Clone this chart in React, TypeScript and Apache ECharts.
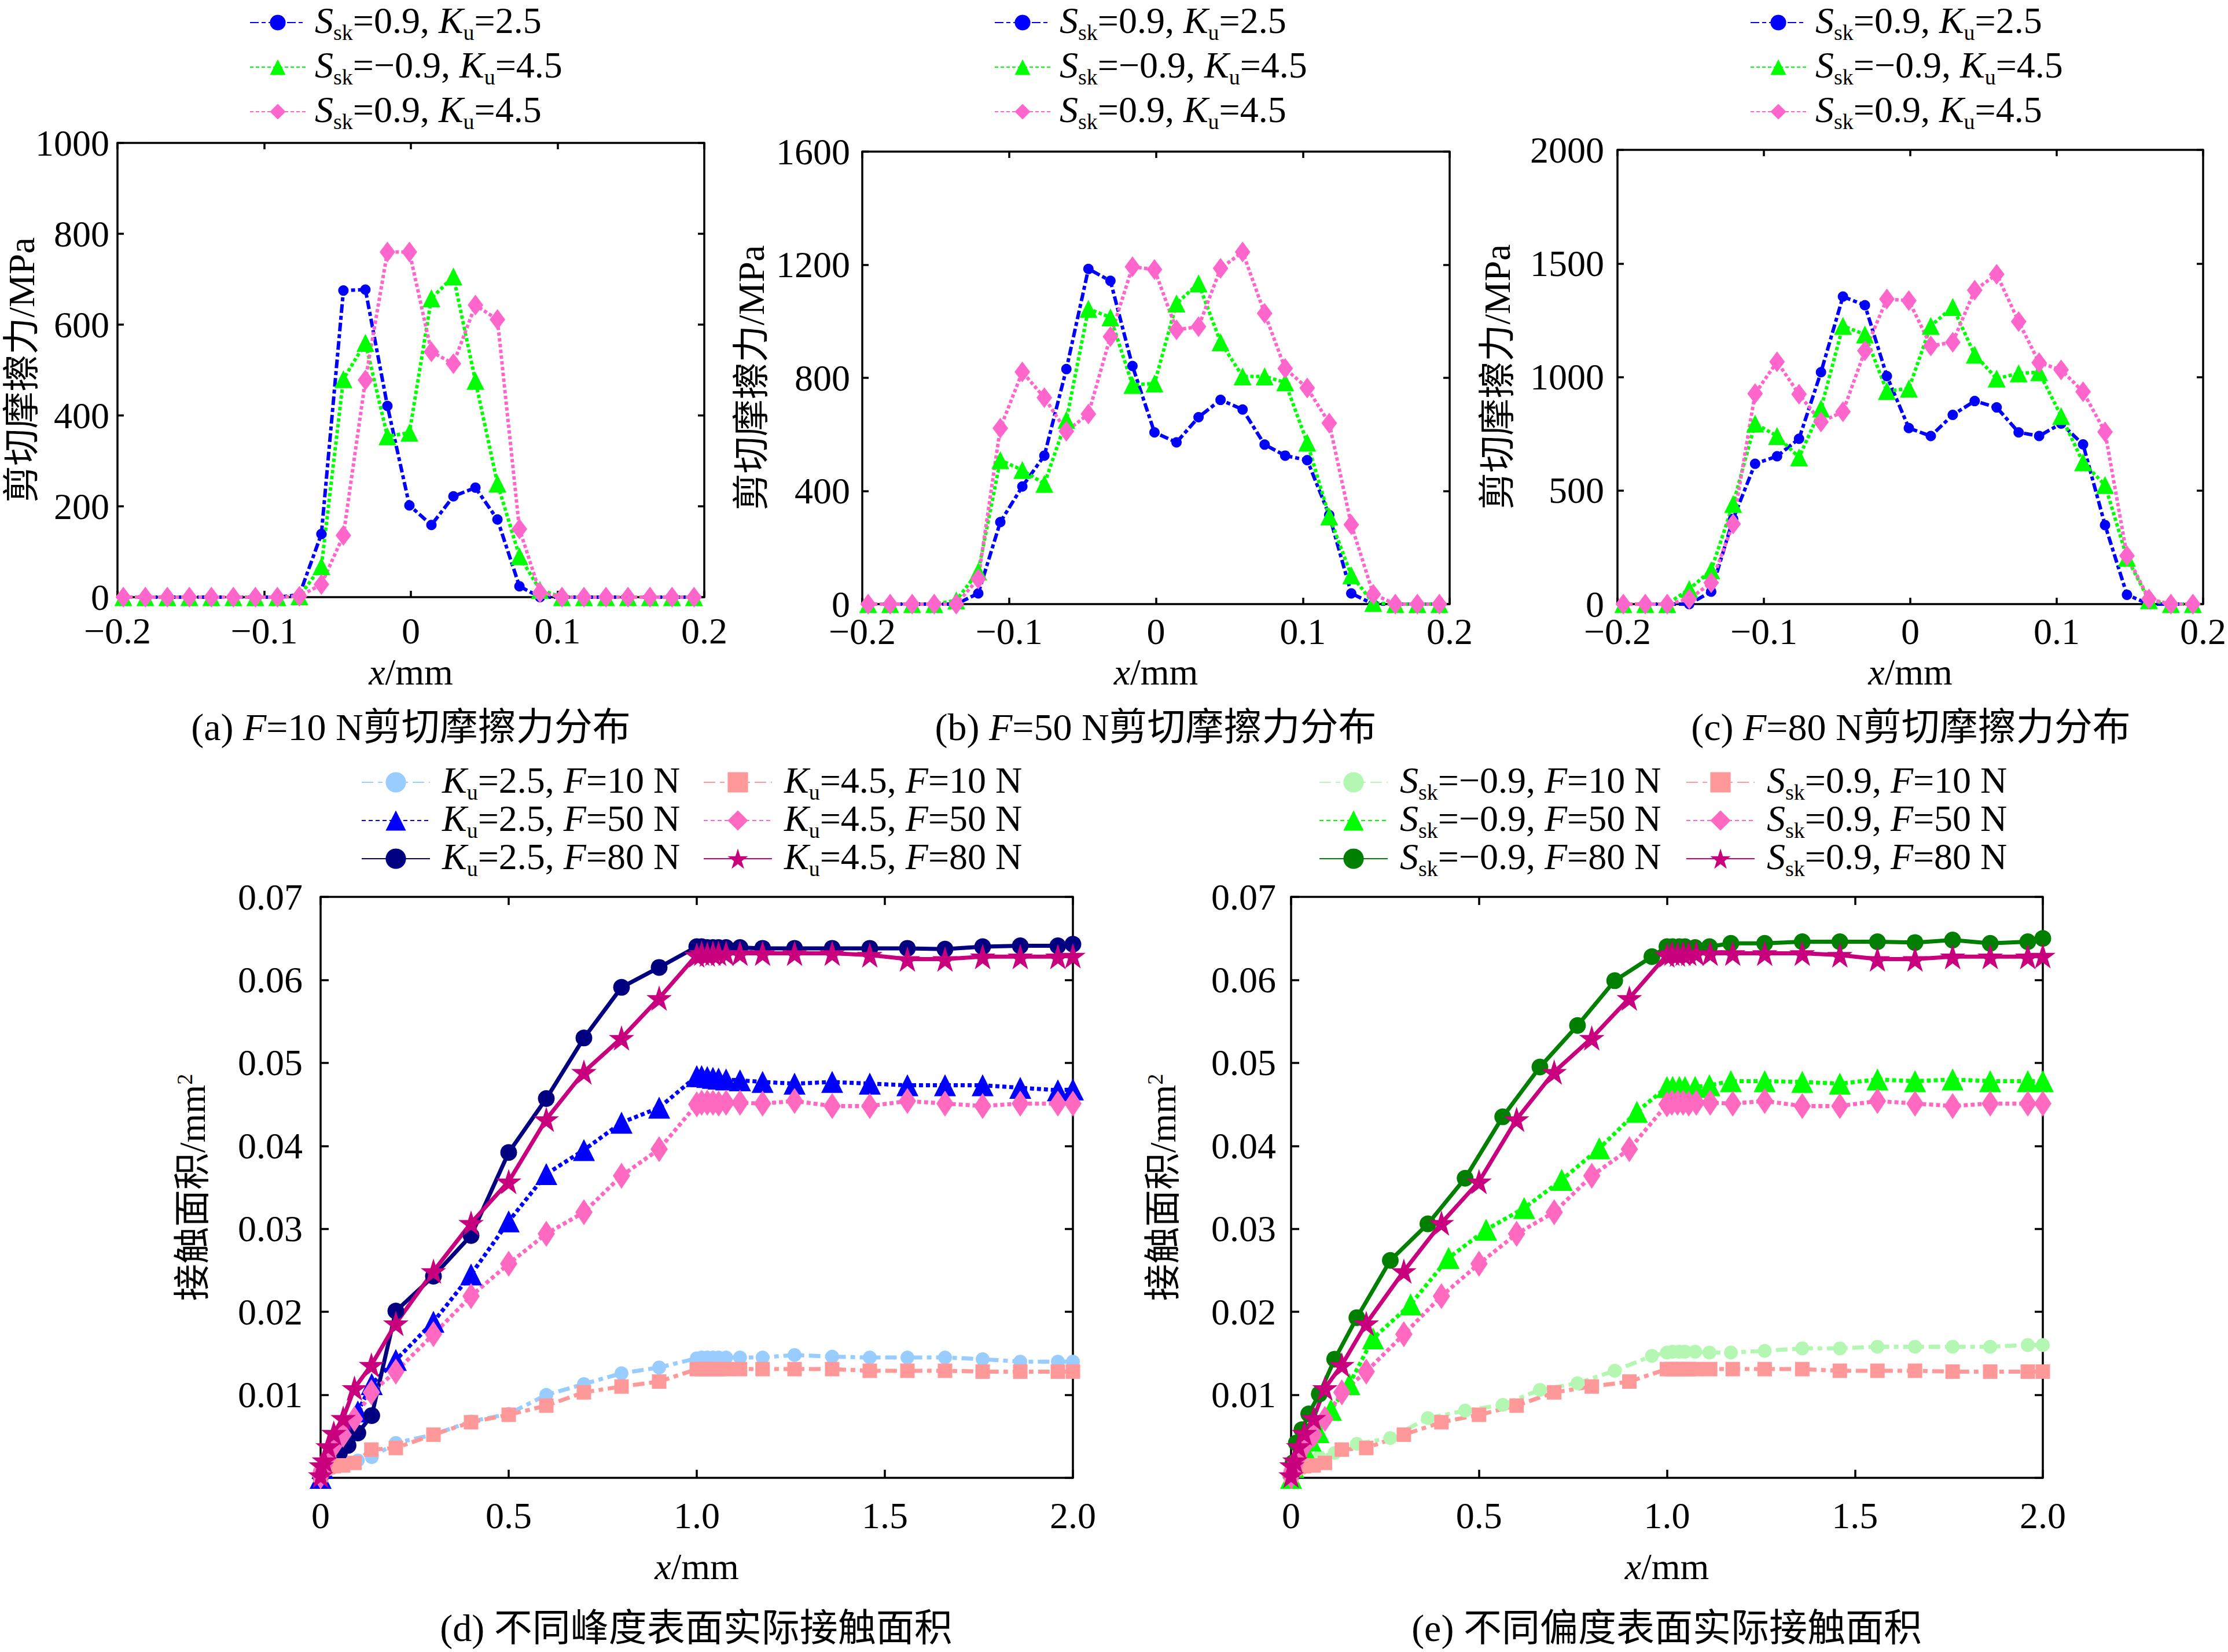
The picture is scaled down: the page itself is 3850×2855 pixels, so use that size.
import React, { useEffect, useRef } from 'react';
import * as echarts from 'echarts';

const FONT = "'Liberation Serif', 'Times New Roman', 'Noto Sans CJK SC', serif";

// ---------- panels (a)-(c): shear friction stress distribution ----------
const xShear = [-0.196, -0.181, -0.166, -0.151, -0.136, -0.121, -0.106, -0.091, -0.076, -0.061, -0.046, -0.031, -0.016, -0.001,
  0.014, 0.029, 0.044, 0.059, 0.074, 0.088, 0.103, 0.118, 0.133, 0.148, 0.163, 0.178, 0.193];

const shearA_s09k25 = [0, 0, 0, 0, 0, 0, 0, 0, 5, 139, 675, 677, 421, 202, 159, 222, 241, 171, 24, 0, 0, 0, 0, 0, 0, 0, 0];
const shearA_sm09k45 = [0, 0, 0, 0, 0, 0, 0, 0, 2, 68, 480, 560, 354, 362, 658, 706, 476, 250, 90, 16, 0, 0, 0, 0, 0, 0, 0];
const shearA_s09k45 = [0, 0, 0, 0, 0, 0, 0, 0, 2, 28, 136, 478, 760, 760, 540, 514, 643, 611, 150, 10, 0, 0, 0, 0, 0, 0, 0];

const shearB_s09k25 = [0, 0, 0, 0, 0, 38, 290, 416, 525, 831, 1185, 1143, 842, 607, 572, 661, 722, 688, 564, 525, 509, 315, 38, 0, 0, 0, 0];
const shearB_sm09k45 = [0, 0, 0, 0, 13, 115, 509, 474, 425, 651, 1044, 1014, 775, 780, 1063, 1134, 926, 805, 805, 784, 571, 310, 102, 4, 0, 0, 0];
const shearB_s09k45 = [0, 0, 0, 0, 0, 89, 622, 821, 730, 611, 672, 946, 1193, 1183, 970, 981, 1187, 1245, 1028, 833, 764, 640, 281, 35, 0, 0, 0];

const shearC_s09k25 = [0, 0, 0, 0, 55, 375, 618, 651, 728, 1021, 1354, 1316, 1004, 775, 740, 833, 894, 866, 756, 740, 795, 703, 348, 41, 0, 0, 0];
const shearC_sm09k45 = [0, 0, 0, 66, 149, 441, 795, 740, 646, 861, 1225, 1187, 938, 949, 1225, 1308, 1098, 993, 1016, 1021, 828, 624, 524, 204, 17, 0, 0];
const shearC_s09k45 = [0, 0, 0, 22, 94, 353, 927, 1067, 924, 802, 847, 1115, 1343, 1336, 1137, 1153, 1382, 1452, 1244, 1063, 1031, 935, 758, 213, 22, 0, 0];

const shearLegend = [
  '{sp| }{i|S}{sub|sk}{n|=0.9, }{i|K}{sub|u}{n|=2.5}',
  '{sp| }{i|S}{sub|sk}{n|=−0.9, }{i|K}{sub|u}{n|=4.5}',
  '{sp| }{i|S}{sub|sk}{n|=0.9, }{i|K}{sub|u}{n|=4.5}',
];
const shearYMax = [1000, 1600, 2000];
const shearYStep = [200, 400, 500];
const shearCaptions = [
  '{n|(a) }{i|F}{n|=10 N剪切摩擦力分布}',
  '{n|(b) }{i|F}{n|=50 N剪切摩擦力分布}',
  '{n|(c) }{i|F}{n|=80 N剪切摩擦力分布}',
];

// ---------- panels (d)-(e): real contact area ----------
const xKu25 = [0, 0.005, 0.015, 0.03, 0.05, 0.073, 0.099, 0.136, 0.2, 0.3, 0.4, 0.5, 0.6, 0.7, 0.8, 0.9,
  1.0, 1.013, 1.028, 1.043, 1.058, 1.078, 1.115, 1.175, 1.26, 1.36, 1.46, 1.56, 1.66, 1.76, 1.86, 1.96, 2.0];
const xKu45 = [0, 0.002, 0.01, 0.02, 0.035, 0.06, 0.09, 0.135, 0.2, 0.3, 0.4, 0.5, 0.6, 0.7, 0.8, 0.9,
  1.0, 1.013, 1.028, 1.043, 1.058, 1.078, 1.115, 1.175, 1.26, 1.36, 1.46, 1.56, 1.66, 1.76, 1.86, 1.96, 2.0];
const xSskNeg = [0, 0.005, 0.014, 0.029, 0.047, 0.075, 0.116, 0.175, 0.264, 0.364, 0.463, 0.563, 0.662, 0.762, 0.861, 0.96,
  1.0, 1.015, 1.033, 1.048, 1.075, 1.113, 1.17, 1.26, 1.36, 1.46, 1.56, 1.66, 1.76, 1.86, 1.96, 2.0];
const xSskNeg50 = [0, 0.006, 0.018, 0.035, 0.052, 0.073, 0.106, 0.155, 0.218, 0.318, 0.419, 0.519, 0.62, 0.72, 0.82, 0.92,
  1.0, 1.015, 1.033, 1.048, 1.075, 1.113, 1.17, 1.26, 1.36, 1.46, 1.56, 1.66, 1.76, 1.86, 1.96, 2.0];

const areaKu25F10 = [0.0003, 0.0006, 0.0009, 0.0012, 0.0015, 0.0018, 0.0021, 0.0025, 0.0042, 0.0052, 0.0068, 0.0077, 0.0100, 0.0113, 0.0126, 0.0133,
  0.0144, 0.0145, 0.0145, 0.0145, 0.0145, 0.0145, 0.0145, 0.0145, 0.0148, 0.0146, 0.0145, 0.0145, 0.0145, 0.0143, 0.0140, 0.0140, 0.0140];
const areaKu25F50 = [0.0, 0.0012, 0.0022, 0.0035, 0.0048, 0.0062, 0.0080, 0.0113, 0.0142, 0.0188, 0.0245, 0.0309, 0.0366, 0.0395, 0.0428, 0.0446,
  0.0484, 0.0484, 0.0483, 0.0482, 0.0481, 0.0480, 0.0479, 0.0477, 0.0475, 0.0477, 0.0475, 0.0473, 0.0473, 0.0473, 0.0470, 0.0467, 0.0468];
const areaKu25F80 = [0.0002, 0.0008, 0.0015, 0.0022, 0.0030, 0.0039, 0.0054, 0.0075, 0.0201, 0.0243, 0.0292, 0.0392, 0.0457, 0.0530, 0.0591, 0.0615,
  0.0640, 0.0640, 0.0639, 0.0639, 0.0639, 0.0639, 0.0639, 0.0638, 0.0638, 0.0638, 0.0638, 0.0638, 0.0637, 0.0640, 0.0641, 0.0641, 0.0643];
const areaKu45F10 = [0.0003, 0.0008, 0.0011, 0.0013, 0.0014, 0.0015, 0.0018, 0.0034, 0.0036, 0.0052, 0.0067, 0.0076, 0.0087, 0.0103, 0.0110, 0.0116,
  0.0131, 0.0131, 0.0131, 0.0131, 0.0131, 0.0131, 0.0131, 0.0131, 0.0131, 0.0131, 0.0129, 0.0129, 0.0129, 0.0128, 0.0128, 0.0128, 0.0128];
const areaKu45F50 = [0.0002, 0.0008, 0.0015, 0.0025, 0.0038, 0.0052, 0.0071, 0.0103, 0.0128, 0.0173, 0.0219, 0.0258, 0.0294, 0.0320, 0.0364, 0.0396,
  0.0450, 0.0452, 0.0452, 0.0452, 0.0451, 0.0452, 0.0452, 0.0451, 0.0454, 0.0448, 0.0448, 0.0454, 0.0451, 0.0448, 0.0451, 0.0451, 0.0451];
const areaKu45F80 = [0.0003, 0.0015, 0.0021, 0.0038, 0.0054, 0.0072, 0.0108, 0.0136, 0.0186, 0.0249, 0.0307, 0.0357, 0.0432, 0.0489, 0.0530, 0.0578,
  0.0630, 0.0632, 0.0631, 0.0632, 0.0632, 0.0632, 0.0632, 0.0632, 0.0632, 0.0632, 0.0630, 0.0625, 0.0625, 0.0628, 0.0628, 0.0628, 0.0629];
const areaSskNegF10 = [0.0003, 0.0008, 0.0012, 0.0016, 0.0020, 0.0025, 0.0030, 0.0041, 0.0048, 0.0072, 0.0081, 0.0088, 0.0106, 0.0114, 0.0129, 0.0147,
  0.0151, 0.0152, 0.0152, 0.0152, 0.0152, 0.0151, 0.0151, 0.0153, 0.0156, 0.0156, 0.0158, 0.0158, 0.0158, 0.0158, 0.0160, 0.0160];
const areaSskNegF50 = [0.0, 0.0013, 0.0024, 0.0035, 0.0045, 0.0055, 0.0082, 0.0113, 0.0168, 0.0209, 0.0265, 0.0299, 0.0325, 0.0359, 0.0397, 0.0441,
  0.0471, 0.0471, 0.0471, 0.0471, 0.0471, 0.0473, 0.0478, 0.0478, 0.0477, 0.0475, 0.0480, 0.0478, 0.0480, 0.0478, 0.0478, 0.0478];
const areaSskNegF80 = [0.0003, 0.0018, 0.0042, 0.0058, 0.0077, 0.0101, 0.0143, 0.0193, 0.0262, 0.0306, 0.0361, 0.0435, 0.0495, 0.0545, 0.0599, 0.0628,
  0.0640, 0.0640, 0.0640, 0.0640, 0.0639, 0.0640, 0.0644, 0.0644, 0.0646, 0.0646, 0.0646, 0.0645, 0.0648, 0.0644, 0.0646, 0.0650];

const legendD = [
  ['{sp| }{i|K}{sub|u}{n|=2.5, }{i|F}{n|=10 N}', '{sp| }{i|K}{sub|u}{n|=2.5, }{i|F}{n|=50 N}', '{sp| }{i|K}{sub|u}{n|=2.5, }{i|F}{n|=80 N}'],
  ['{sp| }{i|K}{sub|u}{n|=4.5, }{i|F}{n|=10 N}', '{sp| }{i|K}{sub|u}{n|=4.5, }{i|F}{n|=50 N}', '{sp| }{i|K}{sub|u}{n|=4.5, }{i|F}{n|=80 N}'],
];
const legendE = [
  ['{sp| }{i|S}{sub|sk}{n|=−0.9, }{i|F}{n|=10 N}', '{sp| }{i|S}{sub|sk}{n|=−0.9, }{i|F}{n|=50 N}', '{sp| }{i|S}{sub|sk}{n|=−0.9, }{i|F}{n|=80 N}'],
  ['{sp| }{i|S}{sub|sk}{n|=0.9, }{i|F}{n|=10 N}', '{sp| }{i|S}{sub|sk}{n|=0.9, }{i|F}{n|=50 N}', '{sp| }{i|S}{sub|sk}{n|=0.9, }{i|F}{n|=80 N}'],
];
const areaCaptions = ['{n|(d) 不同峰度表面实际接触面积}', '{n|(e) 不同偏度表面实际接触面积}'];

const STAR = 'path://M50 0 L61.23 34.55 L97.55 34.55 L68.17 55.9 L79.39 90.45 L50 69.1 L20.61 90.45 L31.83 55.9 L2.45 34.55 L38.77 34.55 Z';

function rich(fs: number, spw = 0) {
  return {
    n: { fontFamily: FONT, fontSize: fs, color: '#000', verticalAlign: 'top', lineHeight: fs },
    i: { fontFamily: FONT, fontSize: fs, color: '#000', fontStyle: 'italic', verticalAlign: 'top', lineHeight: fs },
    sub: { fontFamily: FONT, fontSize: Math.round(fs * 0.6), color: '#000', verticalAlign: 'bottom', lineHeight: Math.round(fs * 1.13) },
    sup: { fontFamily: FONT, fontSize: Math.round(fs * 0.6), color: '#000', verticalAlign: 'top', lineHeight: fs },
    sp: { fontFamily: FONT, fontSize: 4, width: spw, verticalAlign: 'top', lineHeight: 4 },
  };
}

const near0 = (v: number) => Math.abs(v) < 1e-9;
const fmtShearX = (v: number) => (near0(v) ? '0' : v < 0 ? '−' + (-v).toFixed(1) : v.toFixed(1));
const fmtAreaX = (v: number) => (near0(v) ? '0' : v.toFixed(1));
const fmtAreaY = (v: number) => (near0(v) ? '' : v.toFixed(2));

const AXW = 3.5;

function makeAxes(gi: number, o: any) {
  const common = (min: number, max: number, interval: number) => ({
    type: 'value', gridIndex: gi, min, max, interval,
    splitLine: { show: false },
    axisLine: { show: true, onZero: false, lineStyle: { color: '#000', width: AXW } },
    axisTick: { show: true, inside: true, length: o.tick, lineStyle: { color: '#000', width: AXW } },
  });
  const xb = {
    ...common(o.xMin, o.xMax, o.xStep), position: 'bottom',
    axisLabel: { show: true, margin: o.xMargin, formatter: o.xFmt, fontFamily: FONT, fontSize: o.fs, color: '#000' },
    name: '{i|x}{n|/mm}', nameLocation: 'middle', nameGap: o.xNameGap,
    nameTextStyle: { fontFamily: FONT, fontSize: o.fs, color: '#000', rich: rich(o.nameFs) },
  };
  const xt = { ...common(o.xMin, o.xMax, o.xStep), position: 'top', axisLabel: { show: false } };
  const yl = {
    ...common(0, o.yMax, o.yStep), position: 'left',
    axisLabel: { show: true, margin: o.yMargin, formatter: o.yFmt, fontFamily: FONT, fontSize: o.fs, color: '#000' },
    name: o.yName, nameLocation: 'middle', nameGap: o.yNameGap, nameMoveOverlap: false,
    nameTextStyle: { fontFamily: FONT, fontSize: o.nameFs, color: '#000', rich: rich(o.nameFs) },
  };
  const yr = { ...common(0, o.yMax, o.yStep), position: 'right', axisLabel: { show: false } };
  return { x: [xb, xt], y: [yl, yr] };
}

function line(name: string, gi: number, xs: number[], ys: number[], color: string, type: any, width: number, symbol: string, size: any) {
  return {
    type: 'line', name, xAxisIndex: gi * 2, yAxisIndex: gi * 2,
    data: xs.map((x, i) => [x, ys[i]]),
    symbol, symbolSize: size, showSymbol: true, clip: false,
    lineStyle: { color, width, type },
    itemStyle: { color },
    emphasis: { disabled: true },
    animation: false,
  };
}

function buildOption() {
  const grids = [
    { left: 203, top: 247, width: 1014, height: 785 },
    { left: 1490, top: 262, width: 1015, height: 782 },
    { left: 2795, top: 259, width: 1015, height: 785 },
    { left: 554, top: 1550, width: 1300, height: 1004 },
    { left: 2231, top: 1550, width: 1299, height: 1004 },
  ];
  const xAxis: any[] = [];
  const yAxis: any[] = [];
  const series: any[] = [];
  const legend: any[] = [];
  const graphic: any[] = [];

  const shearSets = [
    [shearA_s09k25, shearA_sm09k45, shearA_s09k45],
    [shearB_s09k25, shearB_sm09k45, shearB_s09k45],
    [shearC_s09k25, shearC_sm09k45, shearC_s09k45],
  ];
  const shearXMargin = [26, 15, 15];
  const shearXNameGap = [97, 85, 85];
  const shearYMargin = [14, 21, 23];
  const shearYNameGap = [134, 160, 176];
  const shearLegendLeft = [431, 1718, 3024];
  const captionX = [710, 1997, 3302];

  for (let p = 0; p < 3; p++) {
    const ax = makeAxes(p, {
      xMin: -0.2, xMax: 0.2, xStep: 0.1, yMax: shearYMax[p], yStep: shearYStep[p], tick: 11, fs: 64, nameFs: 64,
      xMargin: shearXMargin[p], xNameGap: shearXNameGap[p], yMargin: shearYMargin[p], yNameGap: shearYNameGap[p],
      xFmt: fmtShearX, yFmt: (v: number) => String(v), yName: '剪切摩擦力/MPa',
    });
    xAxis.push(...ax.x); yAxis.push(...ax.y);
    const names = ['s' + p + '_0', 's' + p + '_1', 's' + p + '_2'];
    const [b, g, k] = shearSets[p];
    series.push(line(names[0], p, xShear, b, '#0000ff', [15, 5, 7, 5], 6, 'circle', 18));
    series.push(line(names[1], p, xShear, g, '#00ff00', [6, 4], 6, 'triangle', 31));
    series.push(line(names[2], p, xShear, k, '#ff66cc', [6, 4], 6, 'diamond', [27, 36]));
    legend.push({
      orient: 'vertical', left: shearLegendLeft[p], top: 3, padding: 0, itemGap: 5,
      itemWidth: 96, itemHeight: 34, selectedMode: false, data: names,
      formatter: (n: string) => shearLegend[names.indexOf(n)],
      textStyle: { fontFamily: FONT, fontSize: 64, color: '#000', rich: rich(64, 11) },
    });
    graphic.push({
      type: 'text', x: captionX[p], y: 1256,
      style: { text: shearCaptions[p], rich: rich(66), fontFamily: FONT, fontSize: 66, fill: '#000', align: 'center', verticalAlign: 'middle' },
    });
  }

  // area panels
  for (let q = 0; q < 2; q++) {
    const gi = 3 + q;
    const ax = makeAxes(gi, {
      xMin: 0, xMax: 2, xStep: 0.5, yMax: 0.07, yStep: 0.01, tick: 14, fs: 64, nameFs: 64,
      xMargin: 33, xNameGap: 121, yMargin: q === 0 ? 31 : 26, yNameGap: 190,
      xFmt: fmtAreaX, yFmt: fmtAreaY, yName: '{n|接触面积/mm}{sup|2}',
    });
    xAxis.push(...ax.x); yAxis.push(...ax.y);
    const left = ['a' + q + '_0', 'a' + q + '_1', 'a' + q + '_2'];
    const right = ['b' + q + '_0', 'b' + q + '_1', 'b' + q + '_2'];
    if (q === 0) {
      series.push(line(left[0], gi, xKu25, areaKu25F10, '#99ccff', [20, 8, 8, 8], 7, 'circle', 24));
      series.push(line(left[1], gi, xKu25, areaKu25F50, '#0000ff', [7, 5], 7, 'triangle', 38));
      series.push(line(left[2], gi, xKu25, areaKu25F80, '#000080', 'solid', 7, 'circle', 29));
    } else {
      series.push(line(left[0], gi, xSskNeg, areaSskNegF10, '#b3f7b3', [20, 8, 8, 8], 7, 'circle', 24));
      series.push(line(left[1], gi, xSskNeg50, areaSskNegF50, '#00ff00', [7, 5], 7, 'triangle', 38));
      series.push(line(left[2], gi, xSskNeg, areaSskNegF80, '#007f00', 'solid', 7, 'circle', 29));
    }
    series.push(line(right[0], gi, xKu45, areaKu45F10, '#ff9999', [20, 8, 8, 8], 7, 'rect', 25));
    series.push(line(right[1], gi, xKu45, areaKu45F50, '#ff69c0', [7, 5], 7, 'diamond', [30, 45]));
    series.push(line(right[2], gi, xKu45, areaKu45F80, '#c8007e', 'solid', 7, STAR, 44));

    const labels = q === 0 ? legendD : legendE;
    const lefts = q === 0 ? [624, 1215] : [2279, 2913];
    [left, right].forEach((names, c) => {
      legend.push({
        orient: 'vertical', left: lefts[c], top: 1316, padding: 0, itemGap: -6,
        itemWidth: 118, itemHeight: 44, selectedMode: false, data: names,
        formatter: (n: string) => labels[c][names.indexOf(n)],
        textStyle: { fontFamily: FONT, fontSize: 64, color: '#000', rich: rich(64, 16) },
      });
    });
    graphic.push({
      type: 'text', x: q === 0 ? 1203 : 2880, y: 2813,
      style: { text: areaCaptions[q], rich: rich(66), fontFamily: FONT, fontSize: 66, fill: '#000', align: 'center', verticalAlign: 'middle' },
    });
  }

  return {
    animation: false,
    backgroundColor: '#ffffff',
    textStyle: { fontFamily: FONT },
    grid: grids,
    xAxis, yAxis, series, legend, graphic,
  };
}

export default function App() {
  const ref = useRef<HTMLDivElement>(null);
  useEffect(() => {
    document.body.style.margin = '0';
    if (!ref.current) return;
    const chart = echarts.init(ref.current, undefined, { renderer: 'svg' });
    chart.setOption(buildOption() as any);
    return () => chart.dispose();
  }, []);
  return <div ref={ref} style={{ position: 'fixed', left: 0, top: 0, width: 3850, height: 2855, background: '#fff' }} />;
}
